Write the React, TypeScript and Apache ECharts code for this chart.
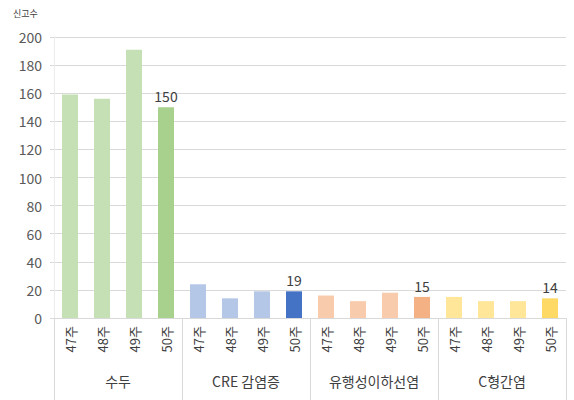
import React, { useEffect, useRef } from "react";
import * as echarts from "echarts";

const groups = ["수두", "CRE 감염증", "유행성이하선염", "C형간염"];
const weeks = ["47주", "48주", "49주", "50주"];
const chickenpox = [159, 156, 191, 150];
const cre = [24, 14, 19, 19];
const mumps = [16, 12, 18, 15];
const hepC = [15, 12, 12, 14];
const yTicks = [0, 20, 40, 60, 80, 100, 120, 140, 160, 180, 200];

const lightColors = ["#c5e0b4", "#b4c7e7", "#f8cbad", "#ffe699"];
const darkColors = ["#a9d18e", "#4472c4", "#f4b183", "#ffd966"];

const FONT = "'Noto Sans CJK KR', 'Noto Sans', sans-serif";

export default function App() {
  const ref = useRef<HTMLDivElement>(null);
  useEffect(() => {
    if (!ref.current) return;
    const chart = echarts.init(ref.current, null, { renderer: "svg" });
    const seriesValues = [chickenpox, cre, mumps, hepC];
    const cats: string[] = [];
    const data: any[] = [];
    seriesValues.forEach((vals, gi) => {
      vals.forEach((v, wi) => {
        cats.push(weeks[wi]);
        const isLast = wi === vals.length - 1;
        data.push({
          value: v,
          itemStyle: { color: isLast ? darkColors[gi] : lightColors[gi] },
          label: {
            show: isLast,
            position: "top",
            distance: 4,
            color: "#404040",
            fontSize: 14,
            fontFamily: FONT,
          },
        });
      });
    });
    chart.setOption({
      animation: false,
      textStyle: { fontFamily: FONT },
      graphic: [
        {
          type: "text",
          left: 13,
          top: 9,
          style: { text: "신고수", fontSize: 9, fill: "#404040", fontFamily: FONT },
        },
      ],
      grid: { left: 54, right: 8, top: 37, bottom: 82, containLabel: false },
      xAxis: [
        {
          type: "category",
          data: cats,
          position: "bottom",
          axisLine: { show: true, lineStyle: { color: "#d9d9d9" } },
          axisTick: { show: false },
          axisLabel: {
            rotate: 90,
            interval: 0,
            margin: 8,
            color: "#404040",
            fontSize: 13,
            fontFamily: FONT,
          },
        },
        {
          type: "category",
          data: groups,
          position: "bottom",
          axisLine: { show: false },
          axisTick: {
            show: true,
            length: 84,
            interval: 0,
            lineStyle: { color: "#d9d9d9" },
          },
          axisLabel: {
            interval: 0,
            margin: 56,
            color: "#404040",
            fontSize: 14,
            fontFamily: FONT,
          },
        },
      ],
      yAxis: {
        type: "value",
        min: 0,
        max: 200,
        interval: 20,
        axisLine: { show: true, lineStyle: { color: "#ececec" } },
        axisTick: { show: true, length: 4, lineStyle: { color: "#d9d9d9" } },
        splitLine: { show: true, lineStyle: { color: "#d9d9d9" } },
        axisLabel: {
          margin: 12,
          color: "#595959",
          fontSize: 14,
          fontFamily: FONT,
          formatter: (v: number) => (yTicks.includes(v) ? String(v) : ""),
        },
      },
      series: [
        {
          type: "bar",
          xAxisIndex: 0,
          data,
          barCategoryGap: "50%",
        },
      ],
    });
    return () => chart.dispose();
  }, []);
  return (
    <div
      ref={ref}
      style={{ position: "absolute", left: 0, top: 0, width: 574, height: 400 }}
    />
  );
}
